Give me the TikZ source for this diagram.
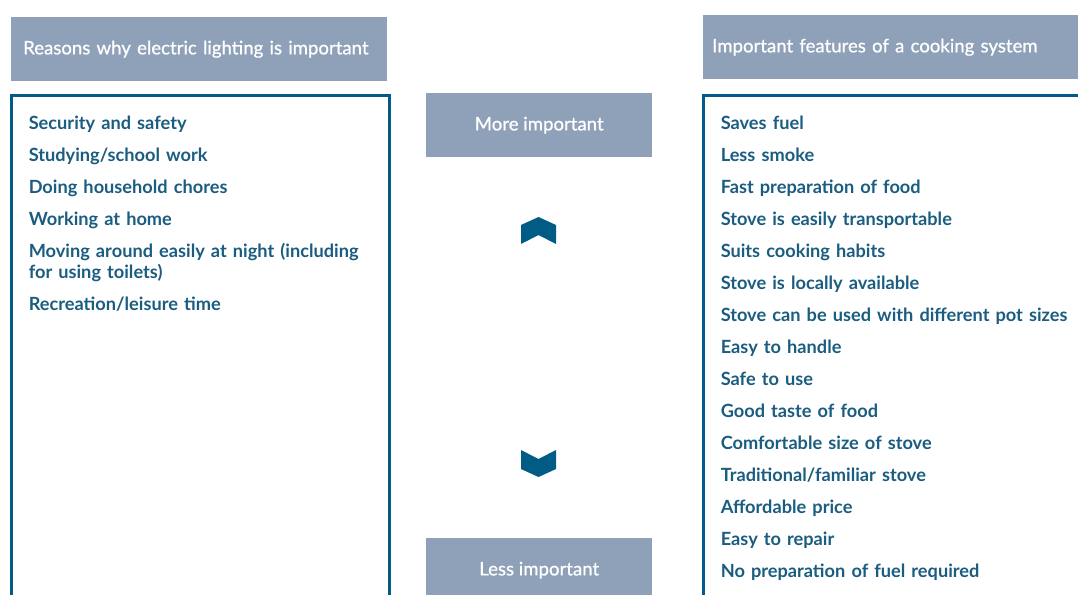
\documentclass[tikz,border=0pt]{standalone}
\usepackage{fontspec}
\setmainfont{Lato}
\usetikzlibrary{positioning,calc}
\definecolor{headgray}{HTML}{8FA1B9}
\definecolor{boxblue}{HTML}{005B85}
\definecolor{itemblue}{HTML}{1A5D80}
\tikzset{
	%Define style for grey headers
	header/.style={
		rectangle,
		fill=headgray,
		text=white,
		font=\addfontfeatures{FakeBold=0.8}\fontsize{18.6}{22}\selectfont,
		minimum width=376pt,
		minimum height=64pt,
		inner xsep=12pt,
		text width=352pt,
		align=left},
	%Define style for the list frames
	listbox/.style={
		rectangle,
		draw=boxblue, line width=3pt,
		outer sep=0pt,
		minimum width=378pt,
		minimum height=540pt},
	%Define style for the ranking boxes
	rankbox/.style={
		rectangle,
		fill=headgray,
		text=white,
		font=\addfontfeatures{FakeBold=0.8}\fontsize{18.6}{22}\selectfont,
		minimum width=226pt,
		minimum height=64pt},
	%Define style for list entries
	itemtxt/.style={
		text=itemblue,
		font=\bfseries\fontsize{18.2}{21}\selectfont,
		inner sep=0pt,
		outer sep=0pt,
		text height=13pt,
		text depth=4pt,
		text width=355pt,
		align=left},
	% Define chevron style
	chev/.style={fill=boxblue, draw=none}
}
\begin{document}
\begin{tikzpicture}[x=1pt,y=-1pt]
	\useasboundingbox (0,0) rectangle (1078,594);
	\clip (0,0) rectangle (1078,594);
	% left header and frame
	\node[header, anchor=north west] (lhead) at (11,17) {Reasons why electric lighting is important};
	\node[listbox, anchor=north west] (lbox) at (11.5,95.5) {};
	% right header and frame
	\node[header, inner xsep=9pt, text width=358pt, anchor=north west] (rhead) at (703,15) {Important features of a cooking system};
	\node[listbox, anchor=north west] (rbox) at (703.5,95.5) {};
	% ranking boxes
	\node[rankbox, anchor=north west] (more) at (426,93) {More important};
	\node[rankbox, anchor=north west] (less) at (426,538) {Less important};
	% chevrons
	\draw[chev] (521,244) -- (521,225) -- (538.5,217) -- (556,225) -- (556,244) -- (538.5,235) -- cycle;
	\draw[chev] (521,450) -- (538.5,459) -- (556,450) -- (556,469) -- (538.5,477) -- (521,469) -- cycle;
	% left list
	\node[itemtxt, below right=20.75pt and 17.25pt of lbox.north west] (l1) {Security and safety};
	\node[itemtxt, below=15pt of l1] (l2) {Studying/school work};
	\node[itemtxt, below=15pt of l2] (l3) {Doing household chores};
	\node[itemtxt, below=15pt of l3] (l4) {Working at home};
	\node[itemtxt, text depth=25pt, below=15pt of l4] (l5) {Moving around easily at night (including\\for using toilets)};
	\node[itemtxt, below=15pt of l5] (l6) {Recreation/leisure time};
	% right list
	\node[itemtxt, below right=20.75pt and 17.25pt of rbox.north west] (r1) {Saves fuel};
	\node[itemtxt, below=15pt of r1] (r2) {Less smoke};
	\node[itemtxt, below=15pt of r2] (r3) {Fast preparation of food};
	\node[itemtxt, below=15pt of r3] (r4) {Stove is easily transportable};
	\node[itemtxt, below=15pt of r4] (r5) {Suits cooking habits};
	\node[itemtxt, below=15pt of r5] (r6) {Stove is locally available};
	\node[itemtxt, below=15pt of r6] (r7) {Stove can be used with different pot sizes};
	\node[itemtxt, below=15pt of r7] (r8) {Easy to handle};
	\node[itemtxt, below=15pt of r8] (r9) {Safe to use};
	\node[itemtxt, below=15pt of r9] (r10) {Good taste of food};
	\node[itemtxt, below=15pt of r10] (r11) {Comfortable size of stove};
	\node[itemtxt, below=15pt of r11] (r12) {Traditional/familiar stove};
	\node[itemtxt, below=15pt of r12] (r13) {Affordable price};
	\node[itemtxt, below=15pt of r13] (r14) {Easy to repair};
	\node[itemtxt, below=15pt of r14] (r15) {No preparation of fuel required};
\end{tikzpicture}
\end{document}
